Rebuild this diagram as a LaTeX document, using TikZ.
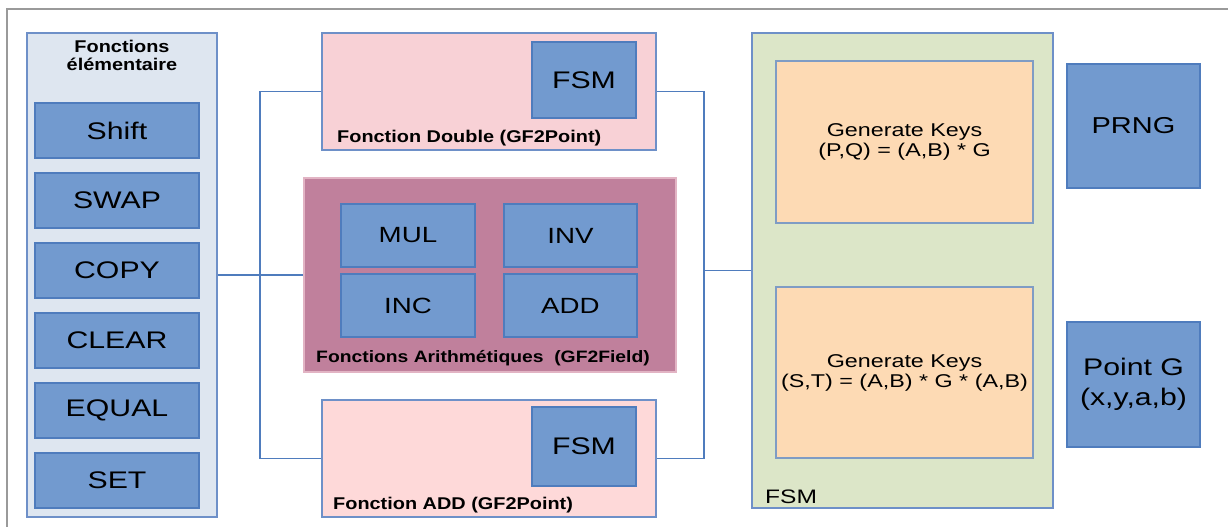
\documentclass[tikz,border=0pt]{standalone}
\usepackage{fontspec}
\setmainfont{Liberation Sans}[FakeStretch=1.26]
\newfontfamily\lblfont{Liberation Sans}[FakeStretch=1.17]
\definecolor{panelfill}{HTML}{DEE6F0}
\definecolor{bluefill}{HTML}{729ACF}
\definecolor{blueline}{HTML}{4F7CBD}
\definecolor{lineblue}{HTML}{6E90C8}
\definecolor{pinkA}{HTML}{F8D1D6}
\definecolor{pinkB}{HTML}{FED9D9}
\definecolor{arithfill}{HTML}{C0809C}
\definecolor{arithline}{HTML}{E2B4C4}
\definecolor{greenfill}{HTML}{DCE6C8}
\definecolor{orangefill}{HTML}{FDDAB4}
\definecolor{orangeline}{HTML}{7F9CC4}
\definecolor{framegray}{HTML}{9A9A9A}
\tikzset{
  box/.style={draw=lineblue, line width=1.2pt, inner sep=0pt, align=center, text=black},
  bluebox/.style={box, fill=bluefill, draw=blueline, font=\fontsize{24}{26}\selectfont},
  boldlabel/.style={inner sep=0pt, font=\lblfont\bfseries\fontsize{17}{19}\selectfont, text=black},
  conn/.style={draw=blueline, line width=1.2pt},
}
\begin{document}
\begin{tikzpicture}[x=1pt,y=-1pt]
\useasboundingbox (0,0) rectangle (1228,527);
% outer frame
\draw[framegray, line width=1.5pt] (7,527) -- (7,9) -- (1228,9);

% left panel
\node[box, fill=panelfill, minimum width=190, minimum height=484] (lp) at (122,275) {};
\node[boldlabel, align=center, font=\lblfont\bfseries\fontsize{17}{18}\selectfont] (lpt) at (122,55) {Fonctions\\élémentaire};
\node[bluebox, minimum width=164, minimum height=55] (shift) at (117,130.5) {Shift};
\node[bluebox, minimum width=164, minimum height=55] (swap) at (117,200.5) {SWAP};
\node[bluebox, minimum width=164, minimum height=55] (copy) at (117,270.5) {COPY};
\node[bluebox, minimum width=164, minimum height=55] (clear) at (117,340.5) {CLEAR};
\node[bluebox, minimum width=164, minimum height=55] (equal) at (117,410.5) {EQUAL};
\node[bluebox, minimum width=164, minimum height=55] (set) at (117,480.5) {SET};

% Fonction Double
\node[box, fill=pinkA, minimum width=334, minimum height=117] (dbl) at (489,91.5) {};
\node[bluebox, minimum width=104, minimum height=76] (fsma) at (584,80) {FSM};
\node[boldlabel, anchor=west] (dblt) at (337,138) {Fonction Double (GF2Point)};

% Arithmetic
\node[box, fill=arithfill, draw=arithline, minimum width=372, minimum height=194] (arith) at (490,275) {};
\node[bluebox, font=\fontsize{22}{24}\selectfont, minimum width=134, minimum height=63] (mul) at (408,235.5) {MUL};
\node[bluebox, font=\fontsize{22}{24}\selectfont, minimum width=133, minimum height=63] (inv) at (570.5,235.5) {INV};
\node[bluebox, font=\fontsize{22}{24}\selectfont, minimum width=134, minimum height=63] (inc) at (408,305.5) {INC};
\node[bluebox, font=\fontsize{22}{24}\selectfont, minimum width=133, minimum height=63] (add) at (570.5,305.5) {ADD};
\node[boldlabel, anchor=west, font=\lblfont\bfseries\fontsize{16.5}{18}\selectfont] (aritht) at (316,358) {Fonctions Arithmétiques\ \ (GF2Field)};

% Fonction ADD
\node[box, fill=pinkB, minimum width=334, minimum height=117] (addp) at (489,458.5) {};
\node[bluebox, minimum width=104, minimum height=79] (fsmb) at (584,446.5) {FSM};
\node[boldlabel, anchor=west] (addt) at (333,505) {Fonction ADD (GF2Point)};

% FSM green panel
\node[box, fill=greenfill, minimum width=301, minimum height=475] (fsm) at (902.5,270.5) {};
\node[box, fill=orangefill, draw=orangeline, minimum width=257, minimum height=162, font=\fontsize{18.5}{20}\selectfont] (gk1) at (904.5,142) {Generate Keys\\(P,Q) = (A,B) * G};
\node[box, fill=orangefill, draw=orangeline, minimum width=257, minimum height=171, font=\fontsize{18.5}{20}\selectfont] (gk2) at (904.5,372.5) {Generate Keys\\(S,T) = (A,B) * G * (A,B)};
\node[inner sep=0pt, anchor=west, font=\fontsize{19.5}{21}\selectfont] (fsmt) at (765,497) {FSM};

% right boxes
\node[bluebox, font=\fontsize{23}{26}\selectfont, minimum width=133, minimum height=124] (prng) at (1133.5,126) {PRNG};
\node[bluebox, font=\fontsize{24}{30}\selectfont, minimum width=133, minimum height=125] (ptg) at (1133.5,384.5) {Point G\\(x,y,a,b)};

% connectors
\coordinate (j1) at (260,275);
\coordinate (j2) at (704,270.5);
\draw[conn] (lp.east) -- (arith.west);
\draw[conn] (dbl.west) -| (j1) |- (addp.west);
\draw[conn] (dbl.east) -| (j2) |- (addp.east);
\draw[conn] (j2) -- (fsm.west);
\end{tikzpicture}
\end{document}
